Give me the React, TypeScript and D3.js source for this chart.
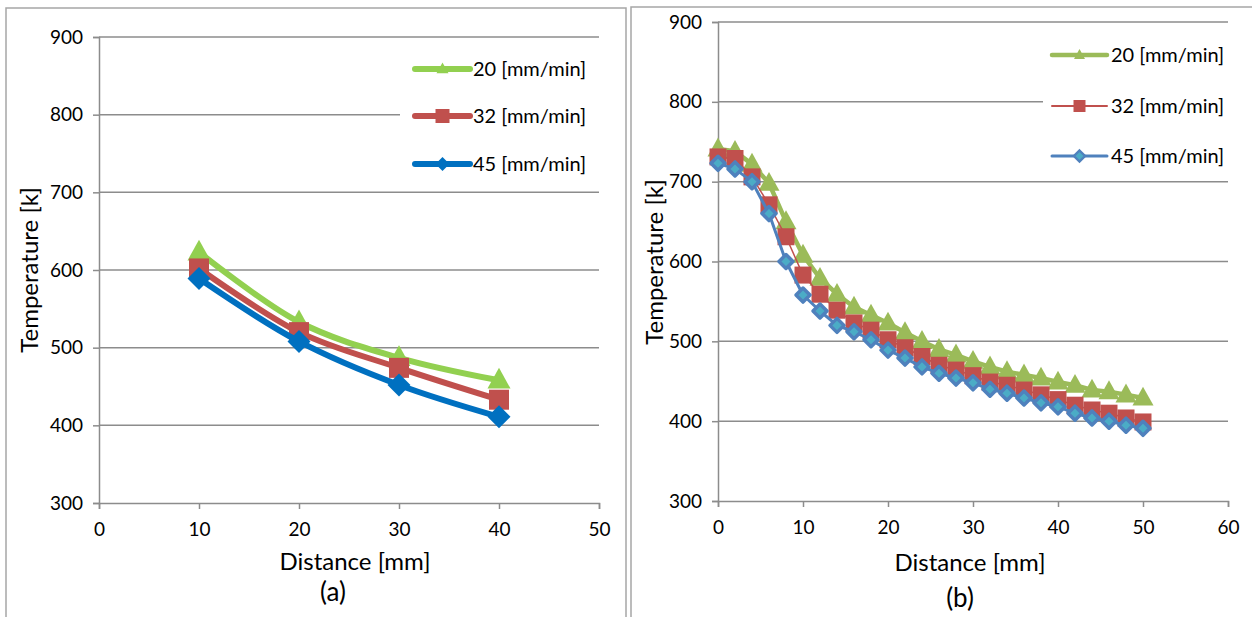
import React, { useEffect, useRef } from "react";
import * as d3 from "d3";

const seriesNames = ["20 [mm/min]", "32 [mm/min]", "45 [mm/min]"];

// panel (a)
const distA = [10, 20, 30, 40];
const tempA20 = [623, 533, 487, 458];
const tempA32 = [602, 520, 474, 433];
const tempA45 = [589, 508, 452, 411];

// panel (b)
const distB = [0, 2, 4, 6, 8, 10, 12, 14, 16, 18, 20, 22, 24, 26, 28, 30, 32, 34, 36, 38, 40, 42, 44, 46, 48, 50];
const tempB20 = [741, 738, 722, 698, 650, 608, 579, 559, 543, 533, 523, 511, 500, 490, 483, 475, 468, 462, 458, 454, 449, 445, 439, 437, 433, 429];
const tempB32 = [731, 729, 706, 671, 631, 583, 559, 539, 523, 514, 502, 492, 481, 470, 464, 457, 449, 445, 439, 433, 427, 420, 414, 410, 404, 399];
const tempB45 = [723, 716, 700, 660, 600, 558, 538, 520, 512, 502, 489, 479, 468, 460, 454, 448, 440, 435, 429, 423, 418, 410, 404, 400, 395, 391];

const yTicks = [300, 400, 500, 600, 700, 800, 900];
const xTicksA = [0, 10, 20, 30, 40, 50];
const xTicksB = [0, 10, 20, 30, 40, 50, 60];

const FONT = "Lato, 'Open Sans', sans-serif";

const panelA = {
  box: [6, 8, 620, 640],
  left: 99, right: 599, top: 37, bottom: 503,
  xMax: 50, xTicks: xTicksA,
  xs: distA,
  ys: [tempA20, tempA32, tempA45],
  curve: d3.curveCatmullRom.alpha(0.5),
  styles: [
    { color: "#92d050", width: 6, marker: "tri", size: 23, lsize: 12, fill: "#92d050", stroke: "none", sw: 0 },
    { color: "#c0504d", width: 6, marker: "sq", size: 20, lsize: 14, fill: "#c0504d", stroke: "none", sw: 0 },
    { color: "#0070c0", width: 6, marker: "dia", size: 23, lsize: 14, fill: "#0070c0", stroke: "none", sw: 0 },
  ],
  legend: { bx: 400, by: 45, bw: 199, bh: 140, x1: 415, x2: 470, tx: 473, ys: [69, 116, 164] },
  yTitle: { x: 30, y: 270 },
  xTitle: { x: 355, y: 562 },
  tag: { text: "(a)", x: 333, y: 592 },
};

const panelB = {
  box: [631, 7, 700, 640],
  left: 718, right: 1228, top: 22, bottom: 501,
  xMax: 60, xTicks: xTicksB,
  xs: distB,
  ys: [tempB20, tempB32, tempB45],
  curve: d3.curveLinear,
  styles: [
    { color: "#9bbb59", width: 4.5, marker: "tri", size: 21, lsize: 11, fill: "#9bbb59", stroke: "none", sw: 0 },
    { color: "#c0504d", width: 1.5, marker: "sq", size: 17, lsize: 12, fill: "#c0504d", stroke: "none", sw: 0 },
    { color: "#4f81bd", width: 3, marker: "dia", size: 14, lsize: 11, fill: "#4bacc6", stroke: "#4f81bd", sw: 3.5 },
  ],
  legend: { bx: 1043, by: 30, bw: 209, bh: 150, x1: 1052, x2: 1107, tx: 1111, ys: [55, 106, 156] },
  yTitle: { x: 655, y: 262 },
  xTitle: { x: 970, y: 563 },
  tag: { text: "(b)", x: 960, y: 598 },
};

function markerPath(kind: string, s: number) {
  const h = s / 2;
  if (kind === "tri") {
    const th = s * 0.9;
    return `M0,${-th * 0.6}L${h},${th * 0.4}L${-h},${th * 0.4}Z`;
  }
  if (kind === "sq") return `M${-h},${-h}h${s}v${s}h${-s}Z`;
  return `M0,${-h}L${h},0L0,${h}L${-h},0Z`;
}

function drawPanel(svg: any, p: any) {
  const x = d3.scaleLinear().domain([0, p.xMax]).range([p.left, p.right]);
  const y = d3.scaleLinear().domain([300, 900]).range([p.bottom, p.top]);
  const g = svg.append("g");

  g.append("rect")
    .attr("x", p.box[0]).attr("y", p.box[1])
    .attr("width", p.box[2]).attr("height", p.box[3])
    .attr("fill", "white").attr("stroke", "#a6a6a6").attr("stroke-width", 1.5);

  // gridlines
  g.selectAll(".grid")
    .data(yTicks.slice(1))
    .join("line")
    .attr("x1", p.left).attr("x2", p.right)
    .attr("y1", (d) => y(d)).attr("y2", (d) => y(d))
    .attr("stroke", "#8c8c8c").attr("stroke-width", 1.5);

  // legend box hides part of the grid
  const L = p.legend;
  g.append("rect").attr("x", L.bx).attr("y", L.by).attr("width", L.bw).attr("height", L.bh).attr("fill", "white");

  // axes
  const yAxis = g.append("g").attr("transform", `translate(${p.left},0)`)
    .call(d3.axisLeft(y).tickValues(yTicks).tickSize(6).tickPadding(10));
  const xAxis = g.append("g").attr("transform", `translate(0,${p.bottom})`)
    .call(d3.axisBottom(x).tickValues(p.xTicks).tickSize(6).tickPadding(14));
  [yAxis, xAxis].forEach((a) => {
    a.attr("font-size", null).attr("font-family", null);
    a.select(".domain").attr("stroke", "#8c8c8c").attr("stroke-width", 1.5);
    a.selectAll(".tick line").attr("stroke", "#8c8c8c").attr("stroke-width", 1.5);
    a.selectAll(".tick text").attr("fill", "#000")
      .attr("font-size", 19).attr("font-family", FONT);
  });

  // series
  p.ys.forEach((vals: number[], i: number) => {
    const st = p.styles[i];
    const pts = p.xs.map((d: number, j: number) => [d, vals[j]]);
    const line = d3.line().x((d: any) => x(d[0])).y((d: any) => y(d[1])).curve(p.curve);
    g.append("path").attr("d", line(pts)).attr("fill", "none")
      .attr("stroke", st.color).attr("stroke-width", st.width).attr("stroke-linejoin", "round");
    g.selectAll(".m" + i)
      .data(pts)
      .join("path")
      .attr("transform", (d: any) => `translate(${x(d[0])},${y(d[1])})`)
      .attr("d", markerPath(st.marker, st.size))
      .attr("fill", st.fill).attr("stroke", st.stroke).attr("stroke-width", st.sw)
      .attr("stroke-linejoin", "round");

    // legend entry
    g.append("line").attr("x1", L.x1).attr("x2", L.x2).attr("y1", L.ys[i]).attr("y2", L.ys[i])
      .attr("stroke", st.color).attr("stroke-width", Math.max(st.width, 2)).attr("stroke-linecap", "round");
    g.append("path").attr("transform", `translate(${(L.x1 + L.x2) / 2},${L.ys[i]})`)
      .attr("d", markerPath(st.marker, st.lsize))
      .attr("fill", st.fill).attr("stroke", st.stroke).attr("stroke-width", st.sw * 0.7);
    g.append("text").attr("x", L.tx).attr("y", L.ys[i]).attr("dy", "0.35em")
      .attr("font-size", 20).attr("font-family", FONT).text(seriesNames[i]);
  });

  g.append("text")
    .attr("transform", `translate(${p.yTitle.x},${p.yTitle.y}) rotate(-90)`)
    .attr("text-anchor", "middle").attr("dy", "0.35em")
    .attr("font-size", 24).attr("font-family", FONT).text("Temperature [k]");
  g.append("text").attr("x", p.xTitle.x).attr("y", p.xTitle.y).attr("dy", "0.35em")
    .attr("text-anchor", "middle").attr("font-size", 24).attr("font-family", FONT).text("Distance [mm]");
  g.append("text").attr("x", p.tag.x).attr("y", p.tag.y).attr("dy", "0.35em")
    .attr("text-anchor", "middle").attr("font-size", 26).attr("font-family", FONT).text(p.tag.text);
}

export default function App() {
  const ref = useRef<SVGSVGElement>(null);

  useEffect(() => {
    const svg = d3.select(ref.current);
    svg.selectAll("*").remove();
    drawPanel(svg, panelA);
    drawPanel(svg, panelB);
  }, []);

  return (
    <svg
      ref={ref}
      width={1252}
      height={617}
      style={{ position: "absolute", left: 0, top: 0, background: "white" }}
    />
  );
}
